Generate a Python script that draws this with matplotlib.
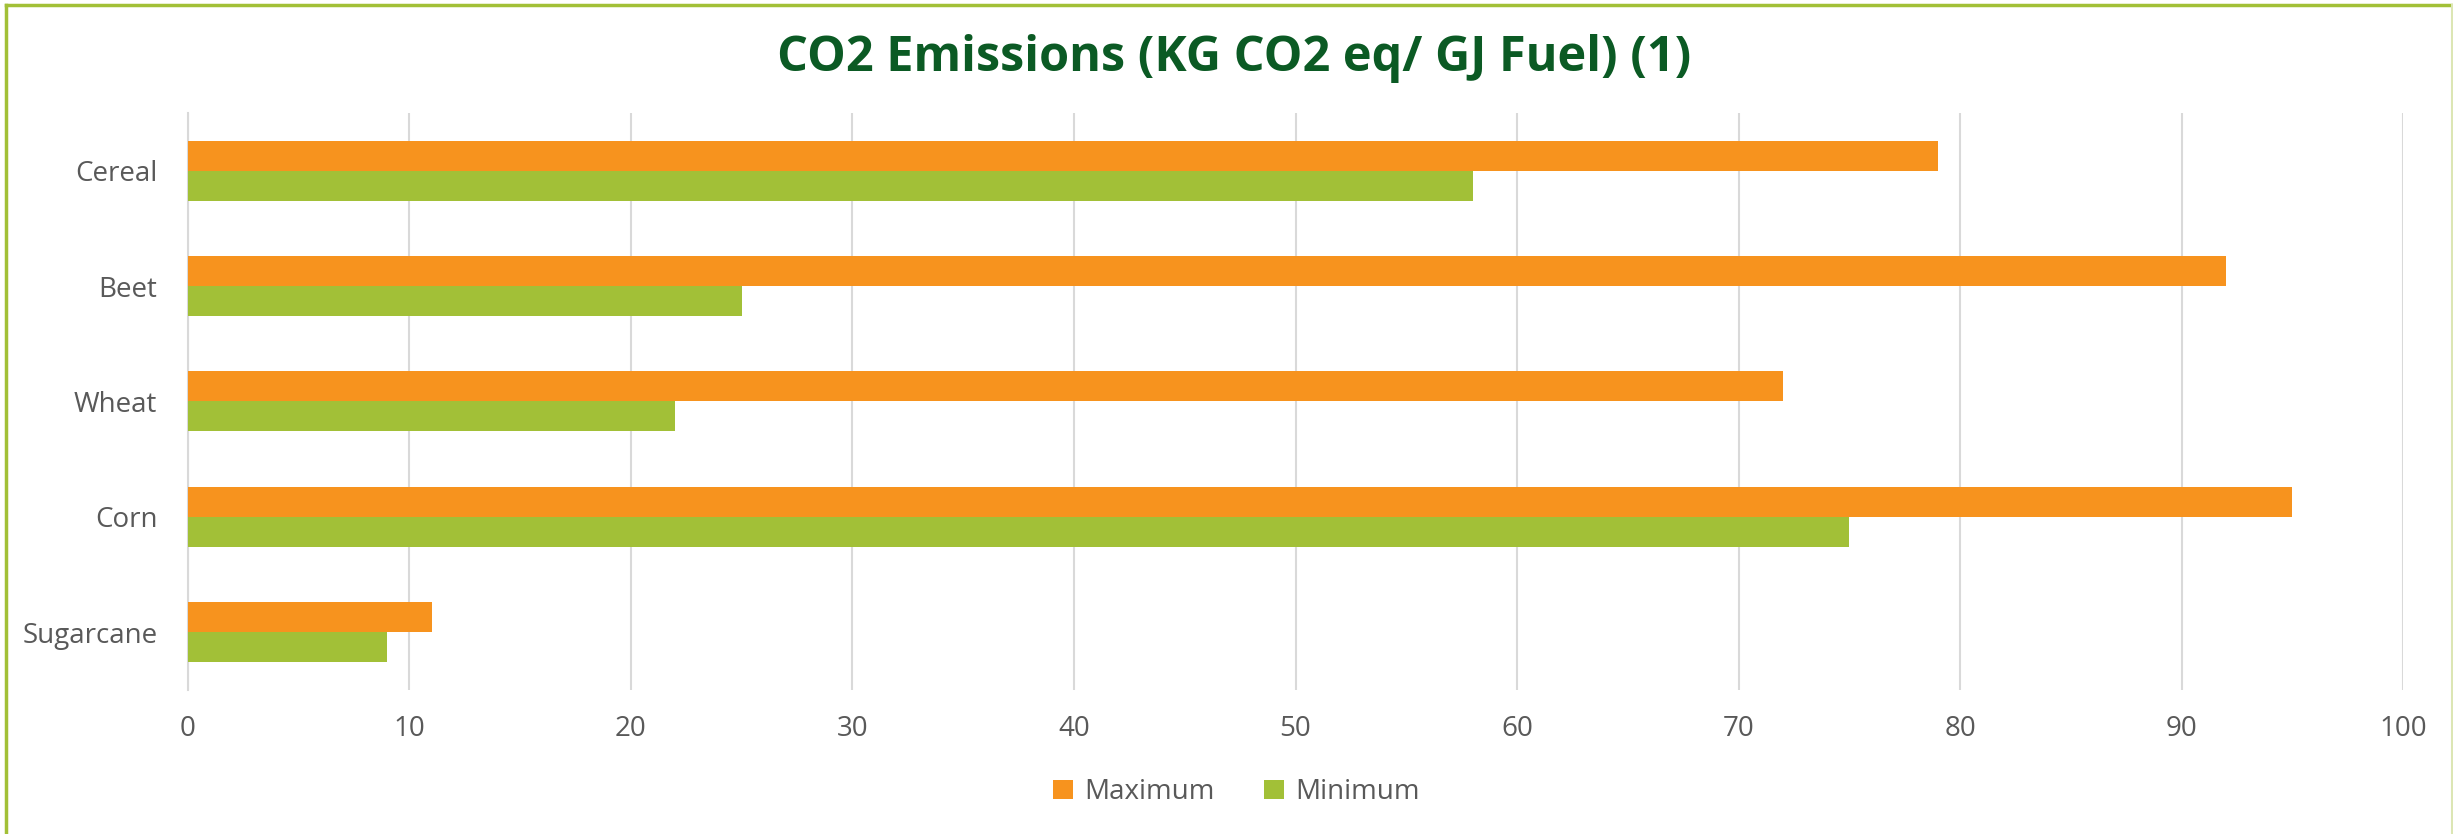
import numpy as np
import matplotlib.pyplot as plt
from matplotlib.lines import Line2D

crops = ["Cereal", "Beet", "Wheat", "Corn", "Sugarcane"]
maximum = [79, 92, 72, 95, 11]
minimum = [58, 25, 22, 75, 9]
xticks = [0, 10, 20, 30, 40, 50, 60, 70, 80, 90, 100]

orange = "#F7931E"
green = "#A2C037"
grey = "#595959"

plt.rcParams["font.family"] = ["Open Sans", "DejaVu Sans"]

fig = plt.figure(figsize=(24.53, 8.34), dpi=100)
ax = fig.add_axes([0.0766, 0.1727, 0.9031, 0.6918])

y = np.arange(len(crops))
h = 0.26
ax.barh(y - h / 2, maximum, height=h, color=orange, label="Maximum", zorder=3)
ax.barh(y + h / 2, minimum, height=h, color=green, label="Minimum", zorder=3)

ax.set_ylim(len(crops) - 0.5, -0.5)
ax.set_xlim(0, 100)
ax.set_yticks(y)
ax.set_yticklabels(crops)
ax.set_xticks(xticks)
ax.tick_params(length=0, labelsize=20, colors=grey)
ax.tick_params(axis="y", pad=22)
ax.tick_params(axis="x", pad=18)
ax.grid(True, axis="x", color="#D9D9D9", linewidth=1.5, zorder=0)
for s in ["top", "right", "bottom"]:
    ax.spines[s].set_visible(False)
ax.spines["left"].set_color("#D9D9D9")
ax.spines["left"].set_linewidth(1.5)

fig.text(0.503, 0.93, "CO2 Emissions (KG CO2 eq/ GJ Fuel) (1)", ha="center", va="center",
         fontsize=35, fontweight="bold", color="#0B5A24")

leg = fig.legend(loc="center", bbox_to_anchor=(0.504, 0.05), ncol=2, frameon=False,
                 fontsize=20, handlelength=0.7, handleheight=0.7, columnspacing=1.8,
                 handletextpad=0.4)
for t in leg.get_texts():
    t.set_color(grey)

# outer frame: top and left in green, faint right edge
top_y = 1 - 4.5 / 834
left_x = 6.5 / 2453
fig.add_artist(Line2D([left_x, 1], [top_y, top_y], transform=fig.transFigure,
                      color="#A2C037", linewidth=2.5))
fig.add_artist(Line2D([left_x, left_x], [0, top_y], transform=fig.transFigure,
                      color="#A2C037", linewidth=2.5))
fig.add_artist(Line2D([1 - 1.5 / 2453, 1 - 1.5 / 2453], [0, top_y], transform=fig.transFigure,
                      color="#DCE6B4", linewidth=1.5))

fig.savefig("out.png", dpi=100)
